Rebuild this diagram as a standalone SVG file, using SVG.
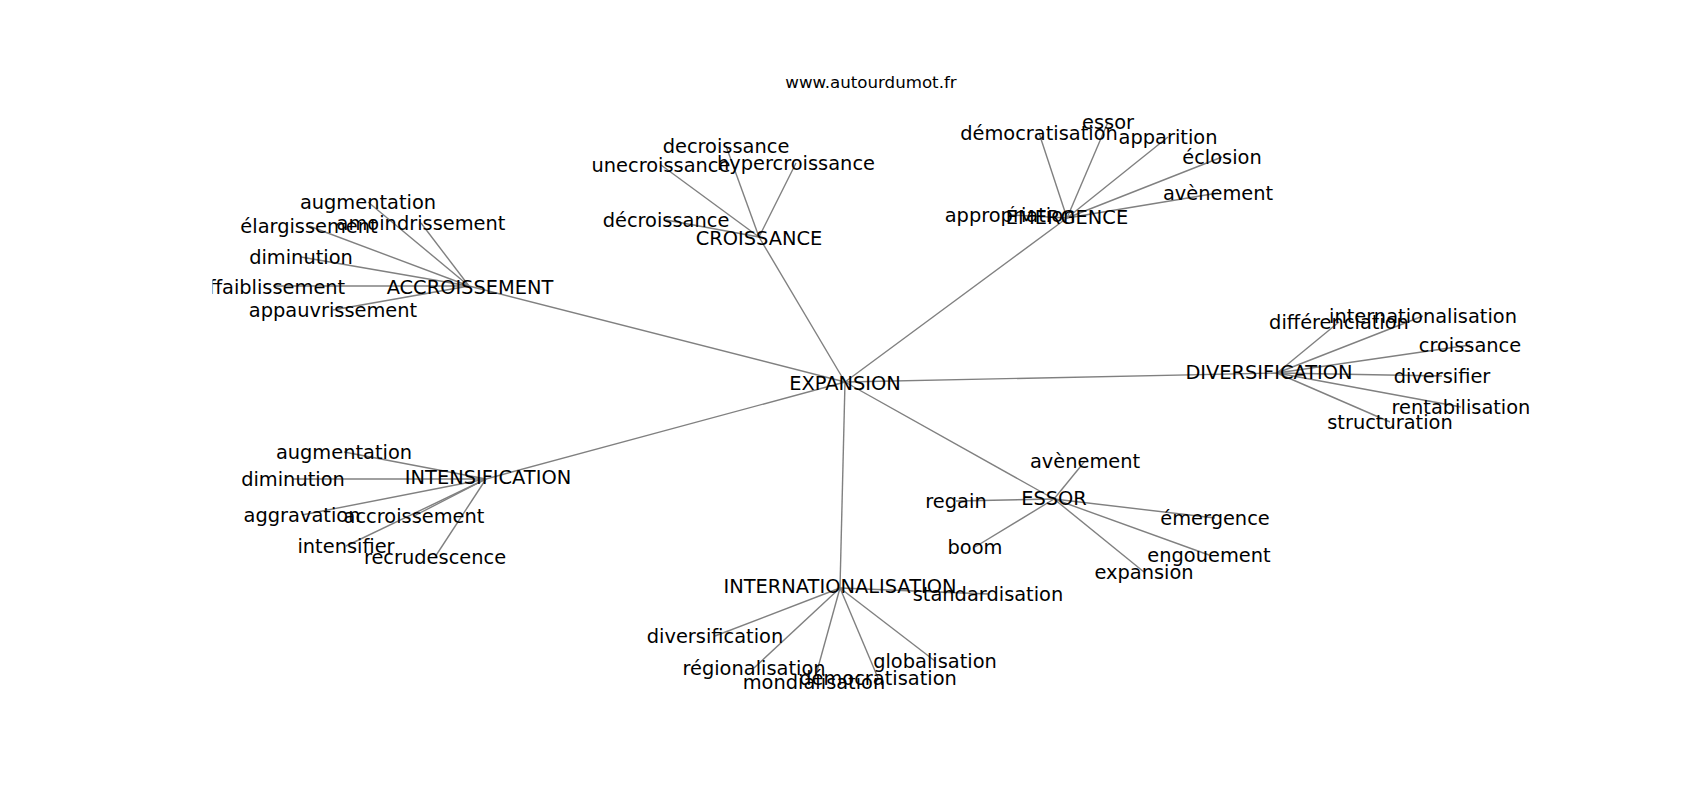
<svg xmlns="http://www.w3.org/2000/svg" width="1700" height="800" viewBox="0 0 1700 800">
<style>
text{font-family:"DejaVu Sans","Liberation Sans",sans-serif;fill:#000}
.lbl{font-size:19.4px;text-anchor:middle;dominant-baseline:central}
.title{font-size:16.67px;text-anchor:middle}
.edges line{stroke:#808080;stroke-width:1.4}
</style>
<defs>
<clipPath id="ax"><rect x="212.5" y="96" width="1317.5" height="616"/></clipPath>
</defs>
<rect width="1700" height="800" fill="#fff"/>
<text class="title" x="871" y="88">www.autourdumot.fr</text>
<g clip-path="url(#ax)">
<g id="connectors" class="edges">
<line x1="845" y1="382" x2="469" y2="286"/>
<line x1="845" y1="382" x2="759" y2="237"/>
<line x1="845" y1="382" x2="1067" y2="218"/>
<line x1="845" y1="382" x2="1277" y2="373"/>
<line x1="845" y1="382" x2="1054" y2="499"/>
<line x1="845" y1="382" x2="840" y2="588"/>
<line x1="845" y1="382" x2="486" y2="479"/>
<line x1="469" y1="286" x2="368" y2="202"/>
<line x1="469" y1="286" x2="421" y2="223"/>
<line x1="469" y1="286" x2="309" y2="226"/>
<line x1="469" y1="286" x2="301" y2="257"/>
<line x1="469" y1="286" x2="273" y2="286"/>
<line x1="469" y1="286" x2="333" y2="310"/>
<line x1="759" y1="237" x2="726" y2="146"/>
<line x1="759" y1="237" x2="661" y2="165"/>
<line x1="759" y1="237" x2="796" y2="163"/>
<line x1="759" y1="237" x2="666" y2="220"/>
<line x1="1067" y1="218" x2="1039" y2="133"/>
<line x1="1067" y1="218" x2="1108" y2="122"/>
<line x1="1067" y1="218" x2="1168" y2="137"/>
<line x1="1067" y1="218" x2="1222" y2="157"/>
<line x1="1067" y1="218" x2="1218" y2="193"/>
<line x1="1067" y1="218" x2="1010" y2="215"/>
<line x1="1277" y1="373" x2="1339" y2="322"/>
<line x1="1277" y1="373" x2="1423" y2="316"/>
<line x1="1277" y1="373" x2="1470" y2="345"/>
<line x1="1277" y1="373" x2="1442" y2="376"/>
<line x1="1277" y1="373" x2="1461" y2="407"/>
<line x1="1277" y1="373" x2="1390" y2="422"/>
<line x1="486" y1="479" x2="344" y2="452"/>
<line x1="486" y1="479" x2="293" y2="479"/>
<line x1="486" y1="479" x2="302" y2="515"/>
<line x1="486" y1="479" x2="414" y2="516"/>
<line x1="486" y1="479" x2="346" y2="546"/>
<line x1="486" y1="479" x2="435" y2="557"/>
<line x1="1054" y1="499" x2="1085" y2="461"/>
<line x1="1054" y1="499" x2="956" y2="501"/>
<line x1="1054" y1="499" x2="975" y2="547"/>
<line x1="1054" y1="499" x2="1215" y2="518"/>
<line x1="1054" y1="499" x2="1209" y2="555"/>
<line x1="1054" y1="499" x2="1144" y2="572"/>
<line x1="840" y1="588" x2="988" y2="594"/>
<line x1="840" y1="588" x2="715" y2="636"/>
<line x1="840" y1="588" x2="754" y2="668"/>
<line x1="840" y1="588" x2="814" y2="682"/>
<line x1="840" y1="588" x2="878" y2="678"/>
<line x1="840" y1="588" x2="935" y2="661"/>
</g>
<g id="n-expansion"><text class="lbl" x="845" y="383">EXPANSION</text></g>
<g id="n-accroissement"><text class="lbl" x="470" y="287">ACCROISSEMENT</text></g>
<g id="n-croissance"><text class="lbl" x="759" y="238">CROISSANCE</text></g>
<g id="n-emergence"><text class="lbl" x="1067" y="217">ÉMERGENCE</text></g>
<g id="n-diversification"><text class="lbl" x="1269" y="372">DIVERSIFICATION</text></g>
<g id="n-essor"><text class="lbl" x="1054" y="498">ESSOR</text></g>
<g id="n-internationalisation"><text class="lbl" x="840" y="586">INTERNATIONALISATION</text></g>
<g id="n-intensification"><text class="lbl" x="488" y="477">INTENSIFICATION</text></g>

<g id="n-acc-augmentation"><text class="lbl" x="368" y="202">augmentation</text></g>
<g id="n-acc-amoindrissement"><text class="lbl" x="421" y="223">amoindrissement</text></g>
<g id="n-acc-elargissement"><text class="lbl" x="309" y="226">élargissement</text></g>
<g id="n-acc-diminution"><text class="lbl" x="301" y="257">diminution</text></g>
<g id="n-acc-affaiblissement"><text class="lbl" x="271" y="287">affaiblissement</text></g>
<g id="n-acc-appauvrissement"><text class="lbl" x="333" y="310">appauvrissement</text></g>

<g id="n-cro-decroissance"><text class="lbl" x="726" y="146">decroissance</text></g>
<g id="n-cro-unecroissance"><text class="lbl" x="661" y="165">unecroissance</text></g>
<g id="n-cro-hypercroissance"><text class="lbl" x="796" y="163">hypercroissance</text></g>
<g id="n-cro-decroissance2"><text class="lbl" x="666" y="220">décroissance</text></g>

<g id="n-eme-democratisation"><text class="lbl" x="1039" y="133">démocratisation</text></g>
<g id="n-eme-essor"><text class="lbl" x="1108" y="122">essor</text></g>
<g id="n-eme-apparition"><text class="lbl" x="1168" y="137">apparition</text></g>
<g id="n-eme-eclosion"><text class="lbl" x="1222" y="157">éclosion</text></g>
<g id="n-eme-avenement"><text class="lbl" x="1218" y="193">avènement</text></g>
<g id="n-eme-appropriation"><text class="lbl" x="1010" y="215">appropriation</text></g>

<g id="n-div-differenciation"><text class="lbl" x="1339" y="322">différenciation</text></g>
<g id="n-div-internationalisation"><text class="lbl" x="1423" y="316">internationalisation</text></g>
<g id="n-div-croissance"><text class="lbl" x="1470" y="345">croissance</text></g>
<g id="n-div-diversifier"><text class="lbl" x="1442" y="376">diversifier</text></g>
<g id="n-div-rentabilisation"><text class="lbl" x="1461" y="407">rentabilisation</text></g>
<g id="n-div-structuration"><text class="lbl" x="1390" y="422">structuration</text></g>

<g id="n-int-augmentation"><text class="lbl" x="344" y="452">augmentation</text></g>
<g id="n-int-diminution"><text class="lbl" x="293" y="479">diminution</text></g>
<g id="n-int-aggravation"><text class="lbl" x="302" y="515">aggravation</text></g>
<g id="n-int-accroissement"><text class="lbl" x="414" y="516">accroissement</text></g>
<g id="n-int-intensifier"><text class="lbl" x="346" y="546">intensifier</text></g>
<g id="n-int-recrudescence"><text class="lbl" x="435" y="557">recrudescence</text></g>

<g id="n-ess-avenement"><text class="lbl" x="1085" y="461">avènement</text></g>
<g id="n-ess-regain"><text class="lbl" x="956" y="501">regain</text></g>
<g id="n-ess-boom"><text class="lbl" x="975" y="547">boom</text></g>
<g id="n-ess-emergence"><text class="lbl" x="1215" y="518">émergence</text></g>
<g id="n-ess-engouement"><text class="lbl" x="1209" y="555">engouement</text></g>
<g id="n-ess-expansion"><text class="lbl" x="1144" y="572">expansion</text></g>

<g id="n-itl-standardisation"><text class="lbl" x="988" y="594">standardisation</text></g>
<g id="n-itl-diversification"><text class="lbl" x="715" y="636">diversification</text></g>
<g id="n-itl-regionalisation"><text class="lbl" x="754" y="668">régionalisation</text></g>
<g id="n-itl-mondialisation"><text class="lbl" x="814" y="682">mondialisation</text></g>
<g id="n-itl-democratisation"><text class="lbl" x="878" y="678">démocratisation</text></g>
<g id="n-itl-globalisation"><text class="lbl" x="935" y="661">globalisation</text></g>
</g>
</svg>
